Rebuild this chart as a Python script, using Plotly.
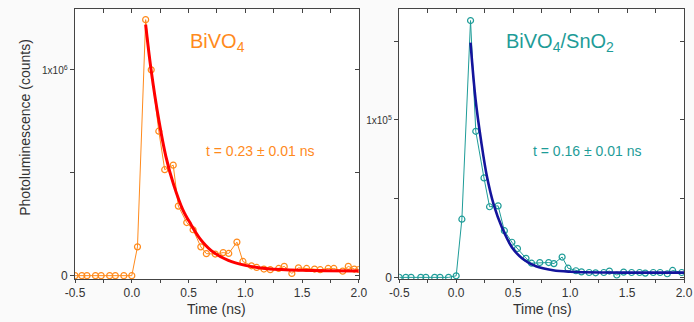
import plotly.graph_objects as go

# ---------------- data ----------------
# BiVO4 (counts, in units of 1e6)
t_bivo4 = [-0.5, -0.44, -0.395, -0.32, -0.27, -0.195, -0.145, -0.07, 0.0,
           0.05, 0.122, 0.171, 0.238, 0.29, 0.365, 0.41, 0.484, 0.54, 0.608,
           0.657, 0.735, 0.805, 0.854, 0.926, 0.979, 1.054, 1.1, 1.164, 1.22,
           1.294, 1.343, 1.41, 1.468, 1.54, 1.61, 1.66, 1.73, 1.78, 1.858,
           1.907, 1.96, 2.0]
pl_bivo4_e6 = [0.0, 0.0, 0.0, 0.0, 0.0, 0.0, 0.0, 0.0, 0.0,
               0.14, 1.244, 1.0, 0.702, 0.515, 0.537, 0.338, 0.258, 0.223, 0.14,
               0.107, 0.105, 0.112, 0.108, 0.163, 0.069, 0.048, 0.04, 0.032, 0.029,
               0.035, 0.045, 0.011, 0.038, 0.035, 0.032, 0.029, 0.035, 0.035, 0.022,
               0.045, 0.032, 0.03]
# BiVO4 fit curve
fit_t_bivo4 = [0.122, 0.17, 0.24, 0.30, 0.37, 0.45, 0.52, 0.60, 0.70, 0.85,
               1.0, 1.2, 1.5, 2.0]
fit_bivo4_e6 = [1.22, 1.0, 0.75, 0.58, 0.44, 0.32, 0.25, 0.18, 0.122, 0.074,
                0.05, 0.034, 0.026, 0.023]

# BiVO4/SnO2 (counts, in units of 1e5)
t_sno2 = [-0.5, -0.442, -0.396, -0.311, -0.266, -0.189, -0.142, -0.067, 0.0,
          0.05, 0.126, 0.172, 0.244, 0.293, 0.368, 0.423, 0.489, 0.538, 0.613,
          0.662, 0.734, 0.812, 0.858, 0.93, 0.982, 1.051, 1.1, 1.167, 1.224,
          1.296, 1.345, 1.41, 1.47, 1.54, 1.61, 1.66, 1.73, 1.79, 1.853, 1.9,
          1.98]
pl_sno2_e5 = [0.0, 0.0, 0.0, 0.0, 0.0, 0.0, 0.0, 0.0, 0.01,
              0.369, 1.63, 0.927, 0.631, 0.448, 0.454, 0.296, 0.223, 0.183, 0.121,
              0.09, 0.094, 0.094, 0.0875, 0.129, 0.058, 0.042, 0.035, 0.031, 0.029,
              0.031, 0.04, 0.015, 0.033, 0.031, 0.031, 0.027, 0.031, 0.031, 0.023,
              0.044, 0.031]
fit_t_sno2 = [0.126, 0.17, 0.22, 0.27, 0.33, 0.40, 0.49, 0.58, 0.70, 0.85,
              1.0, 1.3, 2.0]
fit_sno2_e5 = [1.49, 1.13, 0.86, 0.64, 0.46, 0.32, 0.19, 0.12, 0.07, 0.045,
               0.036, 0.031, 0.03]

x_ticks = [-0.5, 0.0, 0.5, 1.0, 1.5, 2.0]
x_ticklabels = ["-0.5", "0.0", "0.5", "1.0", "1.5", "2.0"]

pl_bivo4 = [v * 1e6 for v in pl_bivo4_e6]
fit_bivo4 = [v * 1e6 for v in fit_bivo4_e6]
pl_sno2 = [v * 1e5 for v in pl_sno2_e5]
fit_sno2 = [v * 1e5 for v in fit_sno2_e5]

# ---------------- colours ----------------
ORANGE = "#FF8A1C"
RED = "#FF0000"
TEAL = "#1E9C98"
NAVY = "#14149C"
AX = "#444444"
TXT = "#333333"
FONT = "Liberation Sans, Arial, sans-serif"

W, H = 694, 322
# the captured picture shows the page offset ~9px to the right and slightly
# narrowed horizontally; map target picture x-positions to page positions
OFF = 9.0
SCL = (W - OFF) / W
def fx(px):
    return ((px - OFF) / SCL) / W
def fy(py):
    return 1 - py / H

dom1 = [fx(75), fx(363)]
dom2 = [fx(404), min(1.0, fx(693))]
ydom = [fy(283.5), fy(9.5)]

fig = go.Figure()

fig.add_trace(go.Scatter(x=t_bivo4, y=pl_bivo4, mode="lines+markers",
                         line=dict(color=ORANGE, width=1),
                         marker=dict(symbol="circle-open", size=6, color=ORANGE,
                                     line=dict(width=1.2, color=ORANGE)),
                         xaxis="x", yaxis="y", showlegend=False))
fig.add_trace(go.Scatter(x=fit_t_bivo4, y=fit_bivo4, mode="lines",
                         line=dict(color=RED, width=3, shape="spline"),
                         xaxis="x", yaxis="y", showlegend=False))
fig.add_trace(go.Scatter(x=t_sno2, y=pl_sno2, mode="lines+markers",
                         line=dict(color=TEAL, width=1),
                         marker=dict(symbol="circle-open", size=6, color=TEAL,
                                     line=dict(width=1.2, color=TEAL)),
                         xaxis="x2", yaxis="y2", showlegend=False))
fig.add_trace(go.Scatter(x=fit_t_sno2, y=fit_sno2, mode="lines",
                         line=dict(color=NAVY, width=2.6, shape="spline"),
                         xaxis="x2", yaxis="y2", showlegend=False))
# dummy traces for mirrored inner-tick axes
for xa, ya in (("x3", "y3"), ("x4", "y4")):
    fig.add_trace(go.Scatter(x=[None], y=[None], xaxis=xa, yaxis=ya,
                             showlegend=False, hoverinfo="skip"))

xr = [-0.5, 2.0]
yr1 = [-0.0167e6, 1.294e6]
yr2 = [-0.011e5, 1.701e5]

common_x = dict(range=xr, showgrid=False, zeroline=False, showline=True,
                linecolor=AX, linewidth=1, ticks="outside", ticklen=3,
                tickcolor=AX, tickvals=x_ticks, ticktext=x_ticklabels,
                tickfont=dict(family=FONT, size=12, color=TXT),
                minor=dict(tickvals=[-0.25, 0.25, 0.75, 1.25, 1.75],
                           ticks="outside", ticklen=3, tickcolor=AX))
common_y = dict(showgrid=False, zeroline=False, showline=True, linecolor=AX,
                linewidth=1, ticks="outside", ticklen=4, tickcolor=AX,
                tickfont=dict(family=FONT, size=12, color=TXT))

top_x = dict(range=xr, showgrid=False, zeroline=False, showline=True,
             linecolor=AX, linewidth=1, side="top", ticks="inside", ticklen=4,
             tickcolor=AX, tickvals=[-0.25, 0.0, 0.25, 0.5, 0.75, 1.0, 1.25, 1.5, 1.75],
             showticklabels=False)
right_y = dict(showgrid=False, zeroline=False, showline=True, linecolor=AX,
               linewidth=1, side="right", ticks="inside", ticklen=4,
               tickcolor=AX, showticklabels=False)

fig.update_layout(
    width=W, height=H, autosize=False,
    margin=dict(l=0, r=0, t=0, b=0),
    paper_bgcolor="#fafafa",
    plot_bgcolor="#ffffff",
    font=dict(family=FONT, color=TXT),
    xaxis=dict(domain=dom1, anchor="y", **common_x),
    yaxis=dict(domain=ydom, anchor="x", range=yr1,
               tickvals=[0, 0.5e6, 1e6],
               ticktext=["0", " ", "<span style='font-size:10px'>1x10<sup>6</sup></span>"],
               **common_y),
    xaxis2=dict(domain=dom2, anchor="y2", **common_x),
    yaxis2=dict(domain=ydom, anchor="x2", range=yr2,
                tickvals=[0, 0.5e5, 1e5, 1.5e5],
                ticktext=["0", " ", "<span style='font-size:10px'>1x10<sup>5</sup></span>", " "],
                **common_y),
    xaxis3=dict(overlaying="x", anchor="y3", **top_x),
    yaxis3=dict(overlaying="y", anchor="x3", range=yr1,
                tickvals=[0, 0.5e6, 1e6], **right_y),
    xaxis4=dict(overlaying="x2", anchor="y4", **top_x),
    yaxis4=dict(overlaying="y2", anchor="x4", range=yr2,
                tickvals=[0, 0.5e5, 1e5, 1.5e5], **right_y),
)

fig.add_annotation(xref="paper", yref="paper", x=fx(190), y=fy(43), xanchor="left",
                   yanchor="middle", showarrow=False, text="BiVO<sub>4</sub>",
                   font=dict(family=FONT, size=20, color=ORANGE))
fig.add_annotation(xref="paper", yref="paper", x=fx(263), y=fy(153), xanchor="center",
                   yanchor="middle", showarrow=False, text="t = 0.23 ± 0.01 ns",
                   font=dict(family=FONT, size=14, color=ORANGE))
fig.add_annotation(xref="paper", yref="paper", x=fx(510), y=fy(43), xanchor="left",
                   yanchor="middle", showarrow=False,
                   text="BiVO<sub>4</sub>/SnO<sub>2</sub>",
                   font=dict(family=FONT, size=20, color=TEAL))
fig.add_annotation(xref="paper", yref="paper", x=fx(595), y=fy(153), xanchor="center",
                   yanchor="middle", showarrow=False, text="t = 0.16 ± 0.01 ns",
                   font=dict(family=FONT, size=14, color=TEAL))
# axis titles
fig.add_annotation(xref="paper", yref="paper", x=fx(24), y=fy(129), xanchor="center",
                   yanchor="middle", showarrow=False, textangle=-90,
                   text="Photoluminescence (counts)",
                   font=dict(family=FONT, size=14, color=TXT))
fig.add_annotation(xref="paper", yref="paper", x=fx(219), y=fy(314), xanchor="center",
                   yanchor="middle", showarrow=False, text="Time (ns)",
                   font=dict(family=FONT, size=14, color=TXT))
fig.add_annotation(xref="paper", yref="paper", x=fx(549), y=fy(314), xanchor="center",
                   yanchor="middle", showarrow=False, text="Time (ns)",
                   font=dict(family=FONT, size=14, color=TXT))

post = (
    "document.documentElement.style.margin='0';"
    "document.body.style.margin='0';document.body.style.padding='0';"
    "document.body.style.overflow='hidden';"
    "var gd=document.getElementById('{plot_id}');"
    "gd.style.position='fixed';gd.style.left='0px';gd.style.top='0px';"
)

fig.write_html("out.html",
               config={"displayModeBar": False, "responsive": False},
               post_script=post)
